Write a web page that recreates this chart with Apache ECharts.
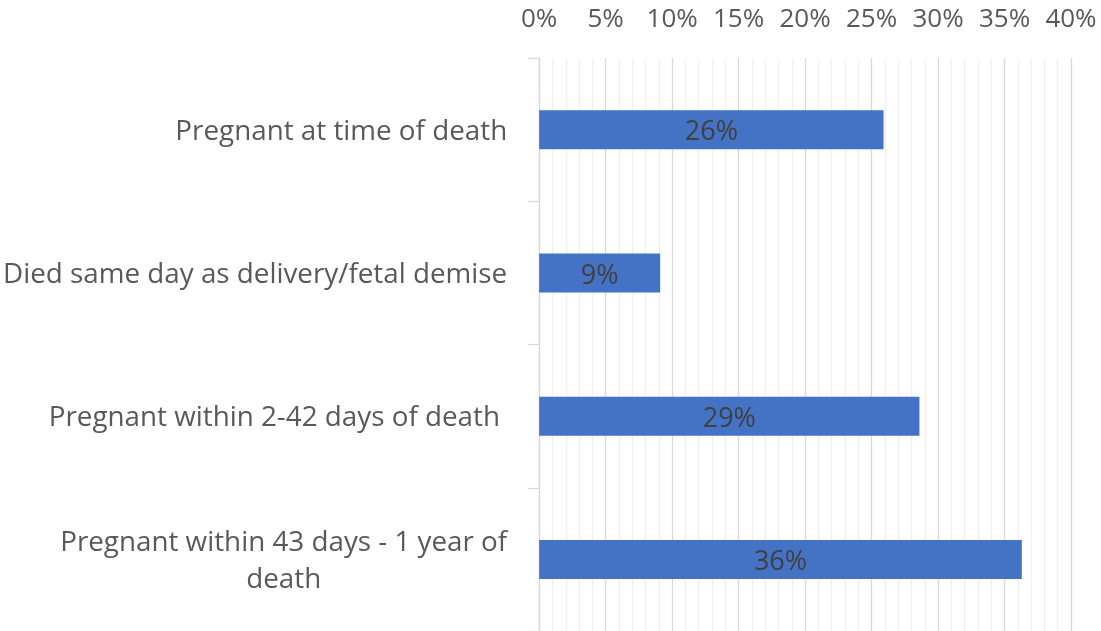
<!DOCTYPE html>
<html><head><meta charset="utf-8">
<script src="https://cdn.jsdelivr.net/npm/echarts@6/dist/echarts.min.js"></script>
<style>html,body{margin:0;padding:0;background:#fff}#c{width:1101px;height:631px}</style>
</head><body><div id="c"></div>
<script>
const categories = ['Pregnant at time of death', 'Died same day as delivery/fetal demise', 'Pregnant within 2-42 days of death ', 'Pregnant within 43 days - 1 year of\ndeath'];
const values = [25.9, 9.1, 28.6, 36.3];
const xTicks = [0, 5, 10, 15, 20, 25, 30, 35, 40];

const FONT = '"Open Sans", "Noto Sans", sans-serif';
const chart = echarts.init(document.getElementById('c'));
chart.setOption({
  animation: false,
  grid: { left: 538, right: 30, top: 58, bottom: -1, containLabel: false },
  xAxis: {
    type: 'value', position: 'top', min: xTicks[0], max: xTicks[xTicks.length - 1], interval: 5,
    axisLine: { show: false }, axisTick: { show: false },
    axisLabel: { formatter: v => v + '%', color: '#595959', fontSize: 26, fontFamily: FONT, margin: 25 },
    splitLine: { show: true, lineStyle: { color: '#d9d9d9', width: 1.3 } },
    minorTick: { show: false, splitNumber: 5 },
    minorSplitLine: { show: true, lineStyle: { color: '#f0f0f0', width: 1.3 } }
  },
  yAxis: {
    type: 'category', data: categories, inverse: true,
    axisLine: { show: true, lineStyle: { color: '#d9d9d9', width: 1.3 } },
    axisTick: { show: true, length: 11, lineStyle: { color: '#d9d9d9', width: 1.3 } },
    axisLabel: {
      margin: 32, color: '#595959', fontSize: 27.8, fontFamily: FONT,
      formatter: v => v.split('\n').map(s => '{a|' + s + '}').join('\n'),
      rich: { a: { align: 'center', color: '#595959', fontSize: 27.8, fontFamily: FONT, lineHeight: 37, padding: [4, 0, 0, 0] } }
    }
  },
  series: [{
    type: 'bar', data: values, barWidth: 39,
    itemStyle: { color: '#4472C4' },
    label: { show: true, position: 'inside', offset: [0, 3], formatter: p => Math.round(p.value) + '%', color: '#404040', fontSize: 27, fontFamily: FONT }
  }]
});
</script></body></html>
